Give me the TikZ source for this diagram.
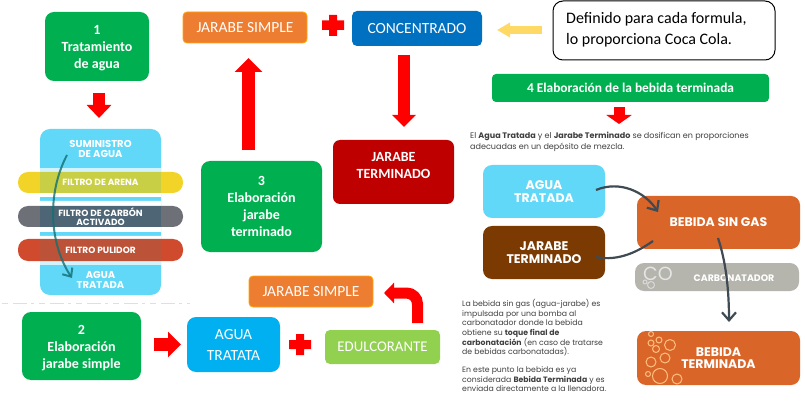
\documentclass[tikz,border=0pt]{standalone}
\usepackage{fontspec}
\setmainfont{Carlito}
\newfontfamily\infofont{Poppins}
\usetikzlibrary{arrows.meta}
\definecolor{gverde}{HTML}{00B050}
\definecolor{naranja}{HTML}{ED7D31}
\definecolor{azulc}{HTML}{0070C0}
\definecolor{celeste}{HTML}{00B0F0}
\definecolor{lima}{HTML}{92D050}
\definecolor{infoazul}{HTML}{62D8F9}
\definecolor{inforange}{HTML}{D96528}
\definecolor{cafe}{HTML}{7A3A02}
\definecolor{pizarra}{HTML}{3F4A52}
\definecolor{amarilloP}{HTML}{F2D327}
\definecolor{amarilloI}{HTML}{C9CF45}
\definecolor{grisP}{HTML}{6E7078}
\definecolor{grisI}{HTML}{4E6575}
\definecolor{rojoP}{HTML}{D04A2E}
\definecolor{rojoI}{HTML}{BC5238}
\definecolor{palido}{HTML}{FFD966}
\definecolor{grisC}{HTML}{B5B5AD}
\tikzset{
  x=1pt,y=-1pt,
  caja/.style={rounded corners=#1,inner sep=0pt,align=center,text=white,font=\fontsize{14}{17}\selectfont},
  caja/.default=6pt,
  negrita/.style={font=\fontsize{14}{17}\selectfont\bfseries},
  plana/.style={font=\fontsize{15.5}{21}\selectfont},
  info/.style={rounded corners=9pt,inner sep=0pt,align=center,text=white,font=\infofont\bfseries\fontsize{12.5}{12.5}\selectfont},
  pildora/.style={rounded corners=10pt,inner sep=0pt,align=center,text=white,font=\infofont\fontsize{7}{8.5}\selectfont},
  etiqueta/.style={text=white,align=center,inner sep=0pt,font=\infofont\bfseries\fontsize{#1}{#1}\selectfont},
  flecharoja/.style={draw=red,line width=#1},
  cuerpo/.style={font=\infofont\fontsize{7.75}{9.7}\selectfont,text=black!75,inner sep=0pt,anchor=north west,align=left},
  curva/.style={draw=pizarra,line width=2.2pt},
  burbuja/.style={draw=#1,line width=1pt},
}
\begin{document}
\begin{tikzpicture}
\useasboundingbox (0,0) rectangle (805,403);
\fill[white] (0,0) rectangle (805,403);

% Infographic 1: water treatment
\node[info,fill=infoazul,minimum width=121pt,minimum height=166pt,rounded corners=10pt] (suministro) at (100.5,212) {};
\fill[white!70!infoazul] (40,168) rectangle (161,172);
\fill[white] (40,193) rectangle (161,197) (40,201) rectangle (161,206) (40,227) rectangle (161,232) (40,236) rectangle (161,239);
\fill[white!70!infoazul] (40,261) rectangle (161,265);
\node[pildora,fill=amarilloP,minimum width=165pt,minimum height=21pt] (arena) at (100.5,182.5) {};
\node[pildora,fill=grisP,minimum width=165pt,minimum height=21pt] (carbon) at (100.5,216.5) {};
\node[pildora,fill=rojoP,minimum width=165pt,minimum height=22pt] (pulidor) at (100.5,250) {};
\fill[amarilloI] (40,172) rectangle (161,193);
\fill[grisI] (40,206) rectangle (161,227);
\fill[rojoI] (40,239) rectangle (161,261);
\node[etiqueta=10] at (100.5,149) {SUMINISTRO\\DE AGUA};
\node[etiqueta=9] at (arena) {FILTRO DE ARENA};
\node[etiqueta=9] at (carbon) {FILTRO DE CARBÓN\\ACTIVADO};
\node[etiqueta=9] at (pulidor) {FILTRO PULIDOR};
\node[etiqueta=10] at (100.5,279.5) {AGUA\\TRATADA};
\coordinate (curvaA) at (67,155);
\coordinate (curvaB) at (72,278);
\draw[draw=teal!70!pizarra,opacity=.8,line width=2pt,-{Straight Barb[length=7pt,width=12pt]}] (curvaA) .. controls (46,195) and (50,245) .. (curvaB);
\draw[gray!25,line width=.8pt,dash pattern=on 6pt off 5pt on 14pt off 4pt on 3pt off 5pt] (2,303) -- (190,303);

% Left column boxes
\node[caja=9pt,fill=gverde,minimum width=104pt,minimum height=69pt] (uno) at (97,46.5) {};
\node[caja=9pt,negrita] at (97,48) {1\\Tratamiento\\de agua};
\node[caja=9pt,fill=gverde,minimum width=119pt,minimum height=68pt] (dos) at (81.5,346) {};
\node[caja=9pt,negrita] at (81.5,348) {2\\Elaboración\\jarabe simple};
\node[caja=9pt,negrita,fill=gverde,minimum width=121pt,minimum height=91pt] (tres) at (261.5,206.5) {3\\Elaboración\\jarabe\\terminado};
\node[caja=7pt,fill=red!75!black,minimum width=121pt,minimum height=64pt] (terminado) at (393.5,172) {};
\node[caja=7pt,negrita] at (393.5,166) {JARABE\\TERMINADO};

% Top row
\node[caja=4pt,plana,fill=naranja,draw=orange!70!yellow,line width=.8pt,minimum width=124pt,minimum height=31pt] (simpleA) at (245,27.5) {JARABE SIMPLE};
\node[caja=5pt,plana,fill=azulc,minimum width=130pt,minimum height=35pt] (concentrado) at (417,28.5) {CONCENTRADO};
\node[rounded corners=10pt,draw=black,line width=1pt,fill=white,minimum width=222pt,minimum height=59pt,inner sep=0pt] (definido) at (664,30.5) {};
\node[anchor=west,align=left,inner sep=0pt,font=\fontsize{16}{21}\selectfont] at (566,30) {Definido para cada formula,\\lo proporciona Coca Cola.};
\node[caja=4pt,fill=gverde,font=\fontsize{13.4}{16}\selectfont\bfseries,minimum width=277pt,minimum height=28pt] (cuatro) at (630.5,88) {4 Elaboración de la bebida terminada};

% Plus signs
\fill[red] (329,15) rectangle (337,36) (322,20.5) rectangle (344,30);
\fill[red] (296,334) rectangle (304,355) (289,340) rectangle (311,349);

% Bottom row
\node[caja=4pt,plana,fill=naranja,draw=orange!70!yellow,line width=.8pt,minimum width=124pt,minimum height=31pt] (simpleB) at (311,291.5) {JARABE SIMPLE};
\node[caja=9pt,plana,fill=celeste,minimum width=93pt,minimum height=55pt] (aguaB) at (233.5,344.5) {AGUA\\TRATATA};
\node[caja=5pt,font=\fontsize{14.8}{18}\selectfont,fill=lima,minimum width=115pt,minimum height=34pt] (edul) at (382.5,347) {EDULCORANTE};

% Red arrows
\coordinate (a1) at (99,93);   \coordinate (a1t) at (99,118);
\coordinate (a2) at (248.5,150); \coordinate (a2t) at (248.5,58);
\coordinate (a3) at (404,55);  \coordinate (a3t) at (404,127);
\coordinate (a4) at (619,107); \coordinate (a4t) at (619,124);
\coordinate (a5) at (154,344.5); \coordinate (a5t) at (181,344.5);
\coordinate (a6) at (417.5,323); \coordinate (a6t) at (384,293);
\draw[flecharoja=12pt,-{Triangle[width=24pt,length=13pt]}] (a1) -- (a1t);
\draw[flecharoja=13pt,-{Triangle[width=27pt,length=14pt]}] (a2) -- (a2t);
\draw[flecharoja=12pt,-{Triangle[width=23pt,length=12pt]}] (a3) -- (a3t);
\draw[flecharoja=11pt,-{Triangle[width=25pt,length=9pt]}] (a4) -- (a4t);
\draw[flecharoja=13pt,-{Triangle[width=25pt,length=13pt]}] (a5) -- (a5t);
\draw[flecharoja=11pt,-{Triangle[width=20pt,length=10pt]},rounded corners=11pt] (a6) -- (417.5,293) -- (a6t);
\coordinate (a7) at (542,30); \coordinate (a7t) at (497,30);
\draw[draw=palido,line width=8pt,-{Triangle[width=14pt,length=13pt]}] (a7) -- (a7t);

% Infographic 4
\node[cuerpo,font=\infofont\fontsize{8.05}{10.6}\selectfont] (parrafoA) at (470,132) {El \textbf{Agua Tratada} y el \textbf{Jarabe Terminado} se dosifican en proporciones\\adecuadas en un depósito de mezcla.};
\node[info,fill=infoazul,minimum width=122pt,minimum height=53pt] (aguaI) at (544,191.5) {AGUA\\TRATADA};
\node[info,fill=cafe,minimum width=122pt,minimum height=53pt] (jarabeI) at (544,252.5) {JARABE\\TERMINADO};
\node[info,fill=inforange,minimum width=163pt,minimum height=53pt] (sinGas) at (718.5,222.5) {BEBIDA SIN GAS};
\node[rounded corners=9pt,fill=grisC,minimum width=164pt,minimum height=28pt,inner sep=0pt] (carbonatador) at (717,277) {};
\node[etiqueta=9.4] at (734,278) {CARBONATADOR};
\node[text=white!80!gray,inner sep=0pt,font=\infofont\fontsize{19}{19}\selectfont] at (658,274) {CO};
\draw[burbuja=white!70!gray] (651,285) circle (3.5) (645,282) circle (2);
\node[info,fill=inforange,minimum width=163pt,minimum height=54pt] (terminadaI) at (718.5,358) {BEBIDA\\TERMINADA};
\foreach \px/\py/\pr in {651/334/2.5,651/343/3,659/340/3,670/345/5.5,656/349/3.5,665/358/5,651/362/5,648/374/2.5,660/376/7.5,677/379/5}
  \draw[burbuja=orange!50!white] (\px,\py) circle (\pr);
\node[cuerpo] (parrafoB) at (462,299) {La bebida sin gas (agua-jarabe) es\\impulsada por una bomba al\\carbonatador donde la bebida\\obtiene su \textbf{toque final de}\\\textbf{carbonatación} (en caso de tratarse\\de bebidas carbonatadas).};
\node[cuerpo] (parrafoC) at (462,366.5) {En este punto la bebida es ya\\considerada \textbf{Bebida Terminada} y es\\enviada directamente a la llenadora.};

% Curved connectors
\coordinate (c1) at (596,190);
\coordinate (c2) at (658,212);
\draw[curva,-{Straight Barb[length=8pt,width=14pt]}] (c1) .. controls (620,180) and (645,192) .. (c2);
\coordinate (j1) at (595,257);
\coordinate (g1) at (653,241);
\draw[curva] (j1) .. controls (620,262) and (640,250) .. (g1);
\coordinate (v1) at (718,238);
\coordinate (v2) at (729,322);
\draw[curva,-{Straight Barb[length=8pt,width=14pt]}] (v1) .. controls (726,262) and (729,290) .. (v2);
\end{tikzpicture}
\end{document}
